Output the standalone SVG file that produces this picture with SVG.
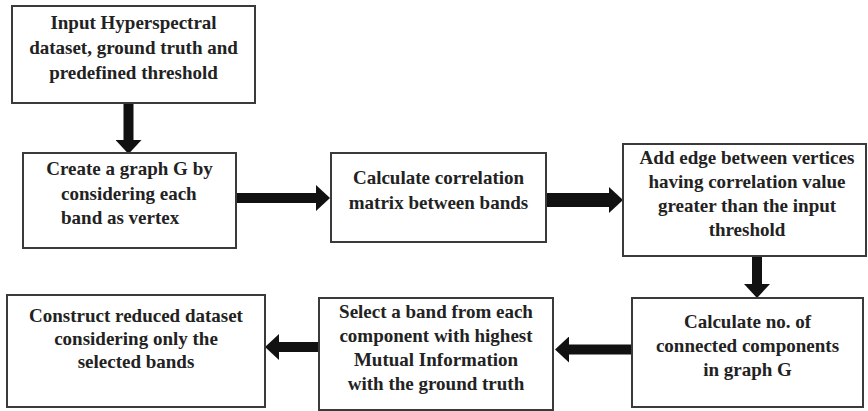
<svg xmlns="http://www.w3.org/2000/svg" width="868" height="411" viewBox="0 0 868 411">
<defs>
<style>
.box{fill:#fff;stroke:#3a3a3a;stroke-width:2}
.t{font-family:'Liberation Serif','Times New Roman',Times,'DejaVu Serif',serif;font-weight:bold;font-size:19px;fill:#222;text-anchor:middle}
.ts{text-anchor:start}
.c{stroke:#111;stroke-width:10;fill:none}
</style>
<marker id="ah" markerUnits="userSpaceOnUse" markerWidth="14" markerHeight="26" refX="0" refY="13" orient="auto" viewBox="0 0 14 26">
<path d="M0,0 L14,13 L0,26 z" fill="#111"/>
</marker>
</defs>
<rect width="868" height="411" fill="#fff"/>
<g id="connectors">
<line class="c" x1="128.5" y1="103" x2="128.5" y2="140" marker-end="url(#ah)"/>
<line class="c" x1="236" y1="198" x2="316" y2="198" marker-end="url(#ah)"/>
<line class="c" x1="546" y1="200" x2="609" y2="200" style="stroke-width:14" marker-end="url(#ah)"/>
<line class="c" x1="757" y1="256" x2="757" y2="284" marker-end="url(#ah)"/>
<line class="c" x1="632" y1="349.5" x2="569" y2="349.5" marker-end="url(#ah)"/>
<line class="c" x1="319" y1="347" x2="279" y2="347" marker-end="url(#ah)"/>
</g>
<g id="n1">
<rect class="box" x="12" y="6" width="243" height="97"/>
<text class="t" x="133.5" y="29">Input Hyperspectral</text>
<text class="t" x="133.5" y="54">dataset, ground truth and</text>
<text class="t" x="133.5" y="79">predefined threshold</text>
</g>
<g id="n2">
<rect class="box" x="23" y="153" width="213" height="95"/>
<text class="t" x="129.5" y="175">Create a graph G by</text>
<text class="t ts" x="61" y="200">considering each</text>
<text class="t ts" x="61" y="224">band as vertex</text>
</g>
<g id="n3">
<rect class="box" x="331" y="153" width="215" height="89"/>
<text class="t" x="438.5" y="184">Calculate correlation</text>
<text class="t" x="438.5" y="209">matrix between bands</text>
</g>
<g id="n4">
<rect class="box" x="623" y="144" width="243" height="112"/>
<text class="t" x="747" y="164">Add edge between vertices</text>
<text class="t" x="747" y="188">having correlation value</text>
<text class="t" x="747" y="212">greater than the input</text>
<text class="t" x="747" y="236">threshold</text>
</g>
<g id="n5">
<rect class="box" x="632" y="298" width="231" height="109"/>
<text class="t" x="747.5" y="328">Calculate no. of</text>
<text class="t" x="747.5" y="352">connected components</text>
<text class="t" x="747.5" y="376">in graph G</text>
</g>
<g id="n6">
<rect class="box" x="319" y="298" width="234" height="112"/>
<text class="t" x="436" y="318">Select a band from each</text>
<text class="t" x="436" y="342">component with highest</text>
<text class="t" x="436" y="366">Mutual Information</text>
<text class="t" x="436" y="390">with the ground truth</text>
</g>
<g id="n7">
<rect class="box" x="7" y="295" width="258" height="112"/>
<text class="t" x="136" y="322">Construct reduced dataset</text>
<text class="t" x="136" y="345">considering only the</text>
<text class="t" x="136" y="368">selected bands</text>
</g>
</svg>
